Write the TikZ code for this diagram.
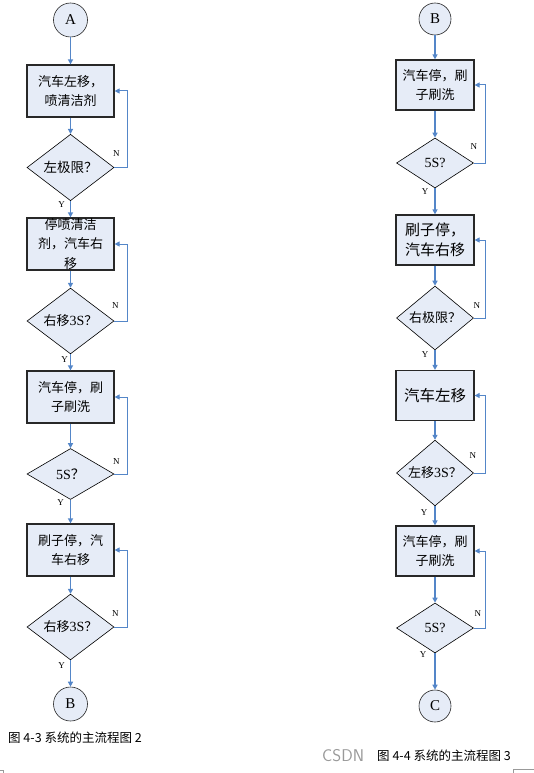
\documentclass[tikz,border=0pt]{standalone}
\usepackage{fontspec}
\setmainfont{Liberation Serif}
\newfontfamily\cjk{Noto Sans CJK SC}
\usetikzlibrary{shapes.geometric,arrows.meta,calc}
\definecolor{fillc}{RGB}{230,236,247}
\definecolor{flow}{RGB}{84,134,200}
\definecolor{edgec}{RGB}{40,40,40}
\tikzset{
  boxL/.style={draw=edgec, line width=1.2pt, fill=fillc, minimum width=87pt, minimum height=52pt, inner sep=0pt, align=center, font=\cjk\fontsize{13}{19.5}\selectfont},
  boxR/.style={boxL, minimum width=78pt, minimum height=50pt},
  decL/.style={diamond, draw=black, line width=0.6pt, fill=fillc, minimum width=87pt, minimum height=51pt, inner sep=0pt, font=\fontsize{14}{16}\selectfont},
  decR/.style={decL, minimum width=77pt, minimum height=50pt},
  term/.style={circle, draw=black!85, line width=0.6pt, fill=fillc, minimum size=34pt, inner sep=0pt, font=\fontsize{15}{17}\selectfont},
  arr/.style={draw=flow, line width=1.3pt, -{Triangle[length=5pt,width=5pt]}},
  fb/.style={draw=flow, line width=1pt, -{Triangle[length=5pt,width=5pt]}},
  lab/.style={inner sep=0pt, font=\fontsize{9}{10}\selectfont},
  captxt/.style={inner sep=0pt, anchor=west, font=\cjk\fontsize{12.5}{14}\selectfont}
}
\begin{document}
\begin{tikzpicture}[x=1pt,y=-1pt]
\useasboundingbox (0,0) rectangle (534,773);
% ---------- left column ----------
\node[term] (ca) at (70.5,20) {A};
\node[boxL] (b1) at (70.5,91) {汽车左移，\\喷清洁剂};
\node[decL] (d1) at (70.5,167.5) {{\cjk\fontsize{13.5}{15}\selectfont 左极限？}};
\node[boxL] (b2) at (70.5,244) {停喷清洁\\剂，汽车右\\移};
\node[decL] (d2) at (70.5,321) {{\cjk\fontsize{13}{15}\selectfont 右移}3S{\cjk\fontsize{13}{15}\selectfont ？}};
\node[boxL] (b3) at (70.5,397) {汽车停，刷\\子刷洗};
\node[decL] (d3) at (70.5,474) {5S{\cjk ？}};
\node[boxL] (b4) at (70.5,550) {刷子停，汽\\车右移};
\node[decL] (d4) at (70.5,627) {{\cjk\fontsize{13}{15}\selectfont 右移}3S{\cjk\fontsize{13}{15}\selectfont ？}};
\node[term] (cb) at (70.5,704) {B};
\draw[arr] (ca) -- (b1);
\draw[arr] (b1) -- (d1);
\draw[arr] (d1) -- (b2);
\draw[arr] (b2) -- (d2);
\draw[arr] (d2) -- (b3);
\draw[arr] (b3) -- (d3);
\draw[arr] (d3) -- (b4);
\draw[arr] (b4) -- (d4);
\draw[arr] (d4) -- (cb);
\foreach \d/\b in {d1/b1,d2/b2,d3/b3,d4/b4}{
  \draw[fb] (\d.east) -- ++(13,0) |- (\b.east);
}
\node[lab] (n1) at ($(d1.east)+(2,-14)$) {N};
\node[lab] (y1) at ($(d1.south)+(-9,4)$) {Y};
\node[lab] (n2) at ($(d2.east)+(1,-15)$) {N};
\node[lab] (y2) at ($(d2.south)+(-6,5)$) {Y};
\node[lab] (n3) at ($(d3.east)+(2,-12)$) {N};
\node[lab] (y3) at ($(d3.south)+(-10,3)$) {Y};
\node[lab] (n4) at ($(d4.east)+(1,-13)$) {N};
\node[lab] (y4) at ($(d4.south)+(-9,5)$) {Y};
\node[captxt] (cap1) at (8,738) {图 4-3 系统的主流程图 2};
% ---------- right column ----------
\node[term, minimum size=32pt] (rb) at (435,19) {B};
\node[boxR] (r1) at (435,85) {汽车停，刷\\子刷洗};
\node[decR] (e1) at (435,163) {5S?};
\node[boxR, font=\cjk\fontsize{15}{20}\selectfont] (r2) at (435,240) {刷子停，\\汽车右移};
\node[decR] (e2) at (435,318) {{\cjk\fontsize{13}{15}\selectfont 右极限？}};
\node[boxR, font=\cjk\fontsize{15.5}{20}\selectfont] (r3) at (435,395.5) {汽车左移};
\node[decR] (e3) at (435,473) {{\cjk\fontsize{13}{15}\selectfont 左移}3S{\cjk\fontsize{13}{15}\selectfont ？}};
\node[boxR] (r4) at (435,551) {汽车停，刷\\子刷洗};
\node[decR] (e4) at (435,628) {5S?};
\node[term, minimum size=32pt] (rc) at (435,706) {C};
\draw[arr] (rb) -- (r1);
\draw[arr] (r1) -- (e1);
\draw[arr] (e1) -- (r2);
\draw[arr] (r2) -- (e2);
\draw[arr] (e2) -- (r3);
\draw[arr] (r3) -- (e3);
\draw[arr] (e3) -- (r4);
\draw[arr] (r4) -- (e4);
\draw[arr] (e4) -- (rc);
\foreach \d/\b in {e1/r1,e2/r2,e3/r3,e4/r4}{
  \draw[fb] (\d.east) -- ++(12,0) |- (\b.east);
}
\node[lab] (m1) at ($(e1.east)+(0,-16)$) {N};
\node[lab] (z1) at ($(e1.south)+(-10,3)$) {Y};
\node[lab] (m2) at ($(e2.east)+(3,-12)$) {N};
\node[lab] (z2) at ($(e2.south)+(-10,4)$) {Y};
\node[lab] (m3) at ($(e3.east)+(-1,-17)$) {N};
\node[lab] (z3) at ($(e3.south)+(-11,6)$) {Y};
\node[lab] (m4) at ($(e4.east)+(4,-14)$) {N};
\node[lab] (z4) at ($(e4.south)+(-12,1)$) {Y};
\node[inner sep=0pt, anchor=west, text=black!40, font=\fontsize{17}{19}\selectfont\sffamily] (wm) at (322,756) {CSDN};
\node[captxt] (cap2) at (377,756) {图 4-4 系统的主流程图 3};
% corner marks
\draw[black!40, line width=0.6pt] (0,770) -- (3,770) -- (3,773);
\draw[black!40, line width=0.6pt] (534,769) -- (513,769) -- (513,773);
\end{tikzpicture}
\end{document}
